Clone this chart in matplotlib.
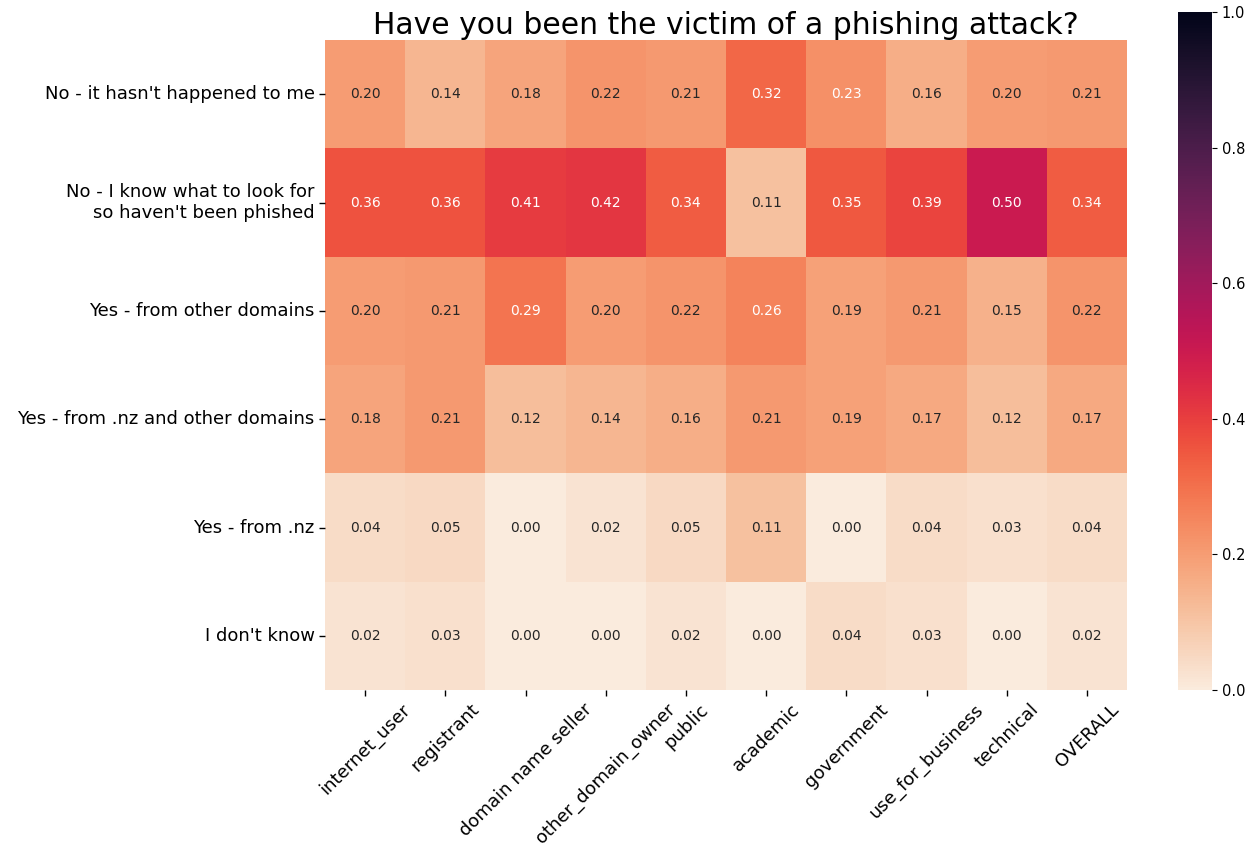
import numpy as np
import matplotlib
matplotlib.use("Agg")
import matplotlib.pyplot as plt
import seaborn as sns

rows = ["No - it hasn't happened to me",
        "No - I know what to look for\nso haven't been phished",
        "Yes - from other domains",
        "Yes - from .nz and other domains",
        "Yes - from .nz",
        "I don't know"]
cols = ["internet_user", "registrant", "domain name seller", "other_domain_owner",
        "public", "academic", "government", "use_for_business", "technical", "OVERALL"]

no_not_happened = [0.20, 0.14, 0.18, 0.22, 0.21, 0.32, 0.23, 0.16, 0.20, 0.21]
no_know_what = [0.36, 0.36, 0.41, 0.42, 0.34, 0.11, 0.35, 0.39, 0.50, 0.34]
yes_other = [0.20, 0.21, 0.29, 0.20, 0.22, 0.26, 0.19, 0.21, 0.15, 0.22]
yes_nz_other = [0.18, 0.21, 0.12, 0.14, 0.16, 0.21, 0.19, 0.17, 0.12, 0.17]
yes_nz = [0.04, 0.05, 0.00, 0.02, 0.05, 0.11, 0.00, 0.04, 0.03, 0.04]
dont_know = [0.02, 0.03, 0.00, 0.00, 0.02, 0.00, 0.04, 0.03, 0.00, 0.02]

data = np.array([no_not_happened, no_know_what, yes_other, yes_nz_other, yes_nz, dont_know])

fig = plt.figure(figsize=(12.5, 8.48), dpi=100)
ax = fig.add_axes([0.26, 0.1863, 0.6416, 0.7665])
cax = fig.add_axes([0.9424, 0.1863, 0.0272, 0.7995])

sns.heatmap(data, ax=ax, cbar_ax=cax, cmap="rocket_r", vmin=0, vmax=1,
            annot=True, fmt=".2f", annot_kws={"fontsize": 10},
            xticklabels=cols, yticklabels=rows)
ax.set_title("Have you been the victim of a phishing attack?", fontsize=21.5, pad=4)
ax.tick_params(axis="both", length=4, width=1, color="black", labelsize=13)
plt.setp(ax.get_xticklabels(), rotation=45, ha="center")
plt.setp(ax.get_yticklabels(), rotation=0, ha="right", ma="right")
cax.tick_params(labelsize=10.5)

fig.savefig("out.png", dpi=100)
